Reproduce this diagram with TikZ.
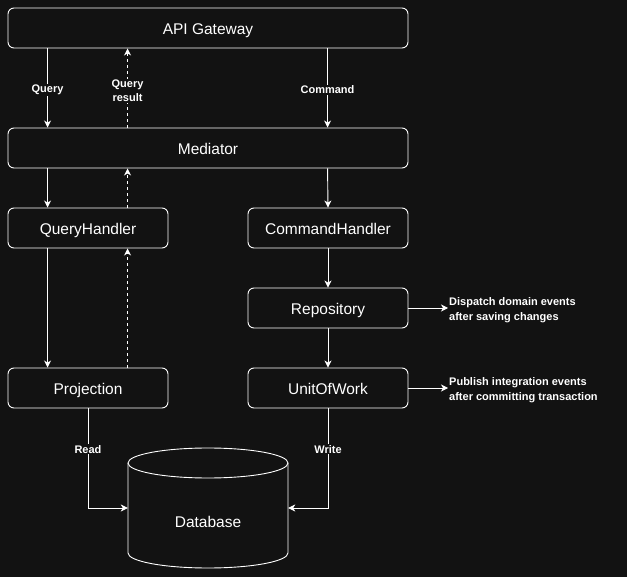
\documentclass[tikz,border=0pt]{standalone}
\usepackage{fontspec}
\setmainfont{Liberation Sans}
\usetikzlibrary{arrows.meta,calc}
\definecolor{bg}{RGB}{18,18,18}
\tikzset{
  box/.style={draw=white, line width=0.9pt, fill=bg, rounded corners=6pt, minimum height=40pt, inner sep=0pt, text=white, text height=13pt, text depth=0pt, font=\fontsize{15.5}{18}\selectfont},
  arr/.style={draw=white, line width=0.9pt, -{Stealth[length=7pt,width=7pt,inset=2pt]}},
  darr/.style={arr, dash pattern=on 3pt off 3pt},
  lbl/.style={fill=bg, text=white, inner sep=1pt, align=center, font=\bfseries\fontsize{11}{14}\selectfont},
  note/.style={text=white, inner sep=1pt, align=left, anchor=west, font=\bfseries\fontsize{11}{14.5}\selectfont},
}
\begin{document}
\begin{tikzpicture}[x=1pt,y=-1pt]
\fill[bg] (0,0) rectangle (627,577);
\useasboundingbox (0,0) rectangle (627,577);

\node[box, minimum width=400pt] (api) at (208,28) {API Gateway};
\node[box, minimum width=400pt] (med) at (208,148) {Mediator};
\node[box, minimum width=160pt] (qh) at (88,228) {QueryHandler};
\node[box, minimum width=160pt] (ch) at (328,228) {CommandHandler};
\node[box, minimum width=160pt] (repo) at (328,308) {Repository};
\node[box, minimum width=160pt] (uow) at (328,388) {UnitOfWork};
\node[box, minimum width=160pt] (proj) at (88,388) {Projection};

% Database cylinder
\fill[bg] (128,463) -- (128,553) arc[start angle=180, end angle=0, x radius=80, y radius=15] -- (288,463) arc[start angle=0, end angle=-180, x radius=80, y radius=15] -- cycle;
\draw[white, line width=0.9pt] (128,463) -- (128,553) arc[start angle=180, end angle=0, x radius=80, y radius=15] -- (288,463);
\draw[white, line width=0.9pt] (208,463) ellipse[x radius=80, y radius=15];
\node[minimum width=160pt, minimum height=120pt, inner sep=0pt] (db) at (208,508) {};
\node[text=white, font=\fontsize{15.5}{18}\selectfont] at (208,522) {Database};

% notes
\node[note, yshift=-2pt] (n1) at (448,308) {Dispatch domain events\\after saving changes};
\node[note, yshift=-2pt] (n2) at (448,388) {Publish integration events\\after committing transaction};

% connectors
\draw[arr] ($(api.south west)+(40,0)$) -- ($(med.north west)+(40,0)$) node[lbl, midway, yshift=-2pt] {Query};
\draw[darr] ($(med.north west)+(120,0)$) -- ($(api.south west)+(120,0)$) node[lbl, midway, yshift=-3pt] {Query\\result};
\draw[arr] ($(api.south west)+(320,0)$) -- ($(med.north west)+(320,0)$) node[lbl, midway, yshift=-2pt] {Command};

\draw[arr] ($(med.south west)+(40,0)$) -- ($(qh.north west)+(40,0)$);
\draw[darr] ($(qh.north west)+(120,0)$) -- ($(med.south west)+(120,0)$);
\draw[arr] ($(med.south west)+(320,0)$) -- (ch.north);

\draw[arr] ($(qh.south west)+(40,0)$) -- ($(proj.north west)+(40,0)$);
\draw[darr] ($(proj.north west)+(120,0)$) -- ($(qh.south west)+(120,0)$);

\draw[arr] (ch.south) -- (repo.north);
\draw[arr] (repo.south) -- (uow.north);

\draw[arr] (repo.east) -- ($(n1.west)+(0,-2)$);
\draw[arr] (uow.east) -- ($(n2.west)+(0,-2)$);

\draw[arr] (proj.south) |- (db.west) node[lbl, pos=0.205] {Read};
\draw[arr] (uow.south) |- (db.east) node[lbl, pos=0.205] {Write};
\end{tikzpicture}
\end{document}
